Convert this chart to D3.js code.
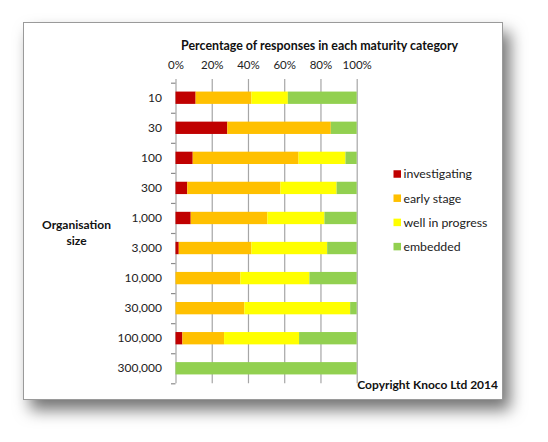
<!DOCTYPE html>
<html lang="en">

<head>
  <meta charset="UTF-8">
  <title>Maturity by organisation size</title>
  <style>
    html,
    body {
      width: 100%;
      margin: 0;
      background: #fff;
    }

    svg text {
      font-family: Lato, 'Liberation Sans', sans-serif;
    }
  </style>
  <script src="https://cdn.jsdelivr.net/npm/d3@7"></script>
</head>

<body>
  <script>
    // canvas
    const width = 548
    const height = 442

    // data (percent of responses)
    const sizes = ['10', '30', '100', '300', '1,000', '3,000', '10,000', '30,000', '100,000', '300,000']
    const categories = ['investigating', 'early stage', 'well in progress', 'embedded']
    const investigating = [11.1, 28.6, 9.5, 6.5, 8.4, 1.8, 0, 0, 3.8, 0]
    const earlyStage = [30.8, 57.1, 58.4, 51.4, 42.3, 40.1, 35.8, 38.0, 23.0, 0]
    const wellInProgress = [20.1, 0, 25.9, 31.0, 31.5, 41.8, 38.1, 58.4, 41.4, 0]
    const embedded = [38.0, 14.3, 6.2, 11.1, 17.8, 16.3, 26.1, 3.6, 31.8, 100]
    const xTicks = [0, 20, 40, 60, 80, 100]
    const colors = ['#c00000', '#ffc000', '#ffff00', '#92d050']

    const series = [investigating, earlyStage, wellInProgress, embedded]
    const table = sizes.map((s, i) => {
      const row = { size: s }
      categories.forEach((c, k) => { row[c] = series[k][i] })
      return row
    })

    const svg = d3.select('body').append('svg')
      .attr('width', width)
      .attr('height', height)

    // frame with drop shadow
    const defs = svg.append('defs')
    const f = defs.append('filter').attr('id', 'shadow')
      .attr('x', '-10%').attr('y', '-10%').attr('width', '130%').attr('height', '130%')
    f.append('feDropShadow')
      .attr('dx', 7).attr('dy', 10).attr('stdDeviation', 8)
      .attr('flood-color', '#000').attr('flood-opacity', 0.55)

    svg.append('rect')
      .attr('x', 23.5).attr('y', 22.5)
      .attr('width', 479).attr('height', 377)
      .attr('fill', '#fff')
      .attr('stroke', '#9a9a9a')
      .attr('filter', 'url(#shadow)')

    // plot area
    const plot = { left: 175.5, right: 356.7, top: 82.7, bottom: 383.3 }

    const x = d3.scaleLinear()
      .domain([0, 100])
      .range([plot.left, plot.right])

    const y = d3.scaleBand()
      .domain(sizes)
      .range([plot.top, plot.bottom])
      .paddingInner(0.59)
      .paddingOuter(0.295)

    // x axis on top, ticks run down as gridlines
    const gx = svg.append('g')
      .attr('transform', 'translate(0, 79)')
      .call(d3.axisTop(x)
        .tickValues(xTicks)
        .tickFormat(d => d + '%')
        .tickSize(-(plot.bottom - 79))
        .tickPadding(10))
    gx.select('.domain').remove()
    gx.selectAll('line').attr('stroke', '#a6a6a6').attr('stroke-width', 1.2)
    gx.selectAll('text').attr('font-size', 11.5).attr('fill', '#222')

    // category boundary ticks
    const yEdge = d3.scaleLinear().domain([0, sizes.length]).range([plot.top, plot.bottom])
    const gTicks = svg.append('g')
      .attr('transform', `translate(${plot.left}, 0)`)
      .call(d3.axisLeft(yEdge).ticks(sizes.length).tickSize(4.5).tickSizeOuter(0).tickFormat(''))
    gTicks.select('.domain').remove()
    gTicks.selectAll('line').attr('stroke', '#8c8c8c').attr('stroke-width', 1.2)

    // category labels
    const gy = svg.append('g')
      .attr('transform', `translate(${plot.left}, 0)`)
      .call(d3.axisLeft(y).tickSize(0).tickPadding(13.5))
    gy.select('.domain').remove()
    gy.selectAll('text').attr('font-size', 12).attr('fill', '#222')

    // stacked bars
    const stack = d3.stack().keys(categories)(table)
    svg.append('g')
      .selectAll('g')
      .data(stack)
      .join('g')
      .attr('fill', (d, i) => colors[i])
      .selectAll('rect')
      .data(d => d)
      .join('rect')
      .attr('x', d => x(d[0]))
      .attr('y', d => y(d.data.size))
      .attr('width', d => x(d[1]) - x(d[0]))
      .attr('height', y.bandwidth())

    // titles
    svg.append('text')
      .attr('x', 319.6).attr('y', 50)
      .attr('text-anchor', 'middle')
      .attr('font-size', 12.4)
      .attr('font-weight', 'bold')
      .attr('fill', '#111')
      .text('Percentage of responses in each maturity category')

    const yTitle = svg.append('text')
      .attr('text-anchor', 'middle')
      .attr('font-size', 12)
      .attr('font-weight', 'bold')
      .attr('fill', '#111')
    yTitle.append('tspan').attr('x', 76.5).attr('y', 229.3).text('Organisation')
    yTitle.append('tspan').attr('x', 76.5).attr('y', 245).text('size')

    // legend
    const legend = svg.append('g')
      .selectAll('g')
      .data(categories)
      .join('g')
      .attr('transform', (d, i) => `translate(393.5, ${174 + i * 24.2})`)
    legend.append('rect')
      .attr('y', -3.75)
      .attr('width', 7.5).attr('height', 7.5)
      .attr('fill', (d, i) => colors[i])
    legend.append('text')
      .attr('x', 10).attr('dy', '0.35em')
      .attr('font-size', 12.3)
      .attr('fill', '#222')
      .text(d => d)

    svg.append('text')
      .attr('x', 357.3).attr('y', 388.5)
      .attr('font-size', 12)
      .attr('font-weight', 'bold')
      .attr('fill', '#111')
      .text('Copyright Knoco Ltd 2014')
  </script>
</body>

</html>
